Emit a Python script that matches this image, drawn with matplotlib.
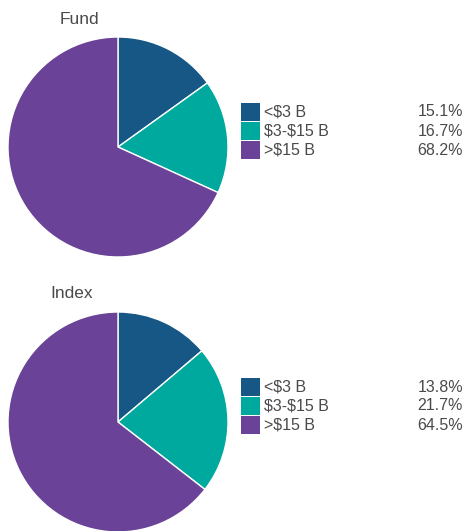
import matplotlib.pyplot as plt

categories = ['<$3 B', '$3-$15 B', '>$15 B']
fund_values = [15.1, 16.7, 68.2]
index_values = [13.8, 21.7, 64.5]
colors = ['#175785', '#00a99d', '#6a4398']

plt.rcParams['font.family'] = ['Liberation Sans', 'DejaVu Sans']
plt.rcParams['text.parse_math'] = False
text_color = '#4a4a4a'

fig = plt.figure(figsize=(4.65, 5.31), dpi=100)
W, H = 465, 531


def draw(title, values, cy, title_x):
    r = 110
    ax = fig.add_axes([(118 - r) / W, (H - cy - r) / H, 2 * r / W, 2 * r / H])
    ax.pie(values, colors=colors, startangle=90, counterclock=False,
           wedgeprops=dict(edgecolor='white', linewidth=1))
    ax.set_aspect('auto')
    ax.set_xlim(-1, 1)
    ax.set_ylim(-1, 1)
    fig.text(title_x / W, 1 - (cy - r - 18) / H, title, fontsize=12.5,
             color=text_color, ha='left', va='center')
    # legend rows
    for i, (lab, v) in enumerate(zip(categories, values)):
        y = cy - 35 + i * 19
        fig.patches.append(plt.Rectangle((241 / W, 1 - (y + 9) / H), 19 / W, 18 / H,
                                         transform=fig.transFigure,
                                         facecolor=colors[i], edgecolor='none'))
        fig.text(264 / W, 1 - y / H, lab, fontsize=11.5, color=text_color,
                 ha='left', va='center')
        fig.text(463 / W, 1 - y / H, f'{v:.1f}%', fontsize=11.5, color=text_color,
                 ha='right', va='center')


draw('Fund', fund_values, 147, 60)
draw('Index', index_values, 422, 50)

plt.savefig('out.png', dpi=100)
plt.close()
